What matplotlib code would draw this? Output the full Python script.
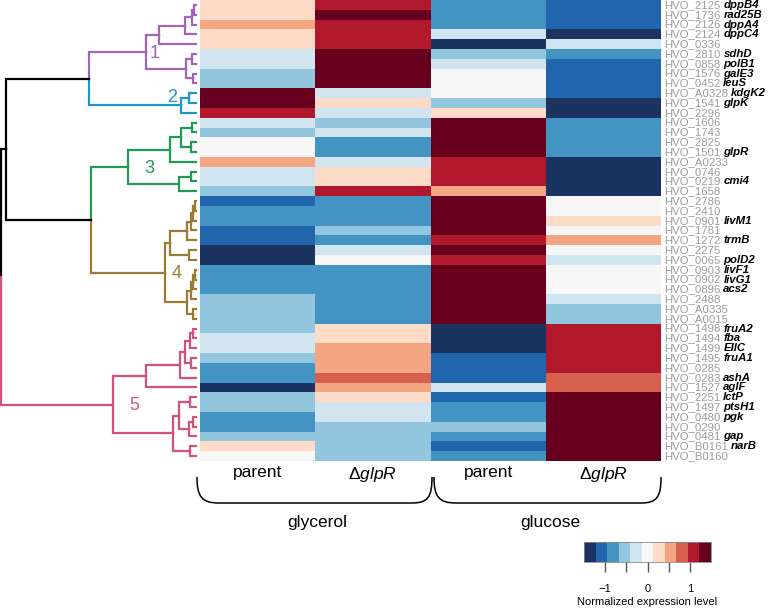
import numpy as np
import matplotlib
matplotlib.use('Agg')
import matplotlib.pyplot as plt
from matplotlib.colors import ListedColormap, BoundaryNorm
from matplotlib.path import Path
from matplotlib.patches import PathPatch
import matplotlib.cm as cm

plt.rcParams['font.family'] = ['Liberation Sans', 'DejaVu Sans']
plt.rcParams['mathtext.fontset'] = 'custom'
plt.rcParams['mathtext.rm'] = 'Liberation Sans'
plt.rcParams['mathtext.it'] = 'Liberation Sans:italic'

gene_ids = ['HVO_2125', 'HVO_1736', 'HVO_2126', 'HVO_2124', 'HVO_0336', 'HVO_2810',
            'HVO_0858', 'HVO_1576', 'HVO_0452', 'HVO_A0328', 'HVO_1541', 'HVO_2296',
            'HVO_1606', 'HVO_1743', 'HVO_2825', 'HVO_1501', 'HVO_A0233', 'HVO_0746',
            'HVO_0219', 'HVO_1658', 'HVO_2786', 'HVO_2410', 'HVO_0901', 'HVO_1781',
            'HVO_1272', 'HVO_2275', 'HVO_0065', 'HVO_0903', 'HVO_0902', 'HVO_0896',
            'HVO_2488', 'HVO_A0335', 'HVO_A0015', 'HVO_1498', 'HVO_1494', 'HVO_1499',
            'HVO_1495', 'HVO_0285', 'HVO_0283', 'HVO_1527', 'HVO_2251', 'HVO_1497',
            'HVO_0480', 'HVO_0290', 'HVO_0481', 'HVO_B0161', 'HVO_B0160']
gene_names = ['dppB4', 'rad25B', 'dppA4', 'dppC4', '', 'sdhD', 'polB1', 'galE3', 'leuS',
              'kdgK2', 'glpK', '', '', '', '', 'glpR', '', '', 'cmi4', '', '', '', 'livM1',
              '', 'trmB', '', 'polD2', 'livF1', 'livG1', 'acs2', '', '', '', 'fruA2', 'fba',
              'EIIC', 'fruA1', '', 'ashA', 'aglF', 'lctP', 'ptsH1', 'pgk', '', 'gap', 'narB', '']

conditions = ['parent', 'Δ$\\mathit{glpR}$', 'parent', 'Δ$\\mathit{glpR}$']
media = ['glycerol', 'glucose']

parent_glycerol = [0.27, 0.27, 0.55, 0.27, 0.27, -0.27, -0.27, -0.55, -0.55, 1.36,
                   1.36, 1.09, -0.27, -0.55, 0.0, 0.0, 0.55, -0.27, -0.27, -0.55,
                   -1.09, -0.82, -0.82, -1.09, -1.09, -1.36, -1.36, -0.82, -0.82, -0.82,
                   -0.55, -0.55, -0.55, -0.55, -0.27, -0.27, -0.55, -0.82, -0.82, -1.36,
                   -0.55, -0.55, -0.82, -0.82, -0.55, 0.27, 0.0]
glpr_glycerol = [1.09, 1.36, 1.09, 1.09, 1.09, 1.36, 1.36, 1.36, 1.36, -0.27,
                 0.27, -0.27, -0.55, -0.27, -0.82, -0.82, -0.27, 0.27, 0.27, 1.09,
                 -0.82, -0.82, -0.82, -0.55, -0.82, -0.27, 0.0, -0.82, -0.82, -0.82,
                 -0.82, -0.82, -0.82, 0.27, 0.27, 0.55, 0.55, 0.55, 0.82, 0.55,
                 0.27, -0.27, -0.27, -0.55, -0.55, -0.55, -0.55]
parent_glucose = [-0.82, -0.82, -0.82, -0.27, -1.36, -0.55, -0.27, 0.0, 0.0, 0.0,
                  -0.55, 0.27, 1.36, 1.36, 1.36, 1.36, 1.09, 1.09, 1.09, 0.55,
                  1.36, 1.36, 1.36, 1.36, 1.09, 1.36, 1.09, 1.36, 1.36, 1.36,
                  1.36, 1.36, 1.36, -1.36, -1.36, -1.36, -1.09, -1.09, -1.09, -0.27,
                  -1.09, -0.82, -0.82, -0.55, -0.82, -1.09, -0.82]
glpr_glucose = [-1.09, -1.09, -1.09, -1.36, -0.27, -0.82, -1.09, -1.09, -1.09, -1.09,
                -1.36, -1.36, -0.82, -0.82, -0.82, -0.82, -1.36, -1.36, -1.36, -1.36,
                0.0, 0.0, 0.27, 0.0, 0.55, 0.0, -0.27, 0.0, 0.0, 0.0,
                -0.27, -0.55, -0.55, 1.09, 1.09, 1.09, 1.09, 1.09, 0.82, 0.82,
                1.36, 1.36, 1.36, 1.36, 1.36, 1.36, 1.36]

# cluster of each row, and the dendrogram as nested (height, left, right)
cluster_of_row = [1] * 9 + [2] * 3 + [3] * 8 + [4] * 13 + [5] * 14
cluster_colors = {1: '#a065b5', 2: '#1f97c4', 3: '#1f9b57', 4: '#9a7b35', 5: '#d2527a'}
tree = (195,
        (190,
         (107,
          (50, (37, (11, (4, (1.5, 0, 1), 2), 3), 4), (10, (4, 5, 6), (3, 7, 8))),
          (15, (7, 9, 10), 11)),
         (105,
          (68, (26, (15, (4, 12, 13), (5, 14, 15)), 16), (17, (5, 17, 18), 19)),
          (31, (26, (9, (5, (3, (1, 20, 21), 22), 23), 24), (7, 25, 26)),
           (9, (5, (3, (1, 27, 28), 29), 30), (3, 31, 32))))),
        (83,
         (50, (16, (11, (6, (3, 33, 34), 35), (5, 36, 37)), 38), 39),
         (23, (17, (6, 40, 41), (7, (3, 42, 43), 44)), (6, 45, 46))))

cbar_ticks = [-1, -0.5, 0, 0.5, 1]
cbar_ticklabels = ['\u22121', '', '0', '', '1']

data = np.column_stack([parent_glycerol, glpr_glycerol, parent_glucose, glpr_glucose])
n_rows = data.shape[0]

colors = ['#1b3361', '#2166ac', '#4393c3', '#92c5de', '#d1e5f0', '#f7f7f7',
          '#fddbc7', '#f4a582', '#d6604d', '#b2182b', '#67001f']
cmap = ListedColormap(colors)
norm = BoundaryNorm(np.linspace(-1.5, 1.5, 12), cmap.N)

W, H = 771, 609
fig = plt.figure(figsize=(W / 100, H / 100), dpi=100)

# heatmap
ax_h = fig.add_axes([200 / W, 148 / H, 461 / W, 461 / H])
ax_h.pcolormesh(np.arange(5), np.arange(n_rows + 1), data, cmap=cmap, norm=norm)
ax_h.set_xlim(0, 4)
ax_h.set_ylim(n_rows, 0)
for s in ax_h.spines.values():
    s.set_visible(False)
ax_h.set_yticks([])
ax_h.set_xticks(np.arange(4) + 0.5)
ax_h.set_xticklabels(conditions, fontsize=12.5)
ax_h.tick_params(axis='x', length=0, pad=3)

trans = matplotlib.transforms.blended_transform_factory(ax_h.transAxes, ax_h.transData)
for i in range(n_rows):
    t = ax_h.annotate(gene_ids[i], xy=(1, i + 0.5), xycoords=trans, xytext=(3, 0),
                      textcoords='offset pixels', ha='left', va='center',
                      fontsize=8.2, color='#9c9c9c', annotation_clip=False)
    if gene_names[i]:
        ax_h.annotate(gene_names[i], xy=(1, 0.5), xycoords=t, xytext=(3, 0),
                      textcoords='offset pixels', ha='left', va='center',
                      fontsize=8.2, fontweight='bold', fontstyle='italic', color='black')

# dendrogram
ax_d = fig.add_axes([0, 148 / H, 196 / W, 461 / H])
ax_d.set_xlim(196, 0)
ax_d.set_ylim(n_rows, 0)
ax_d.axis('off')
cluster_nodes = {}


def node_color(leaves):
    cl = set(cluster_of_row[k] for k in leaves)
    return cluster_colors[cl.pop()] if len(cl) == 1 else 'black'


def draw(node):
    if isinstance(node, int):
        return node + 0.5, 0, [node]
    h, left, right = node
    kids = [draw(left), draw(right)]
    y = (kids[0][0] + kids[1][0]) / 2
    leaves = kids[0][2] + kids[1][2]
    for yc, hc, lc in kids:
        ax_d.plot([h, h, hc], [y, yc, yc], color=node_color(lc), lw=1.6,
                  solid_joinstyle='miter', clip_on=False)
    cl = set(cluster_of_row[k] for k in leaves)
    if len(cl) == 1:
        cluster_nodes[cl.pop()] = (h, y)
    return y, h, leaves


draw(tree)

label_offsets = {1: (9, 2), 2: (-9, -8), 3: (21, 2), 4: (12, 1), 5: (21, 1)}
for c, (h, y) in cluster_nodes.items():
    dx, dy = label_offsets[c]
    ax_d.annotate(str(c), xy=(h, y), xytext=(dx, -dy), textcoords='offset pixels',
                  ha='center', va='center', fontsize=13, color=cluster_colors[c])

# braces and media labels
ax_o = fig.add_axes([0, 0, 1, 1])
ax_o.set_xlim(0, W)
ax_o.set_ylim(H, 0)
ax_o.axis('off')
braces = [(197, 432), (434, 661)]
for (x0, x1), m in zip(braces, media):
    verts = [(x0, 477), (x0, 497), (x0 + 5, 503), (x0 + 22, 503), (x1 - 20, 503),
             (x1 - 4, 503), (x1, 497), (x1, 477)]
    codes = [Path.MOVETO, Path.CURVE4, Path.CURVE4, Path.CURVE4, Path.LINETO,
             Path.CURVE4, Path.CURVE4, Path.CURVE4]
    ax_o.add_patch(PathPatch(Path(verts, codes), fill=False, lw=1.1, edgecolor='black'))
    ax_o.text((x0 + x1) / 2 + 3, 522, m, ha='center', va='center', fontsize=12.5)

# colorbar
cax = fig.add_axes([584 / W, 47 / H, 127 / W, 20 / H])
cb = fig.colorbar(cm.ScalarMappable(norm=norm, cmap=cmap), cax=cax,
                  orientation='horizontal')
cb.ax.minorticks_off()
cb.set_ticks(cbar_ticks)
cb.set_ticklabels(cbar_ticklabels)
cb.outline.set_linewidth(0.6)
cb.outline.set_edgecolor('#888888')
cb.ax.tick_params(length=7, width=1, color='#555555', labelsize=8, pad=9)
cb.set_label('Normalized expression level', fontsize=8, labelpad=2)

fig.savefig('out.png', dpi=100)
